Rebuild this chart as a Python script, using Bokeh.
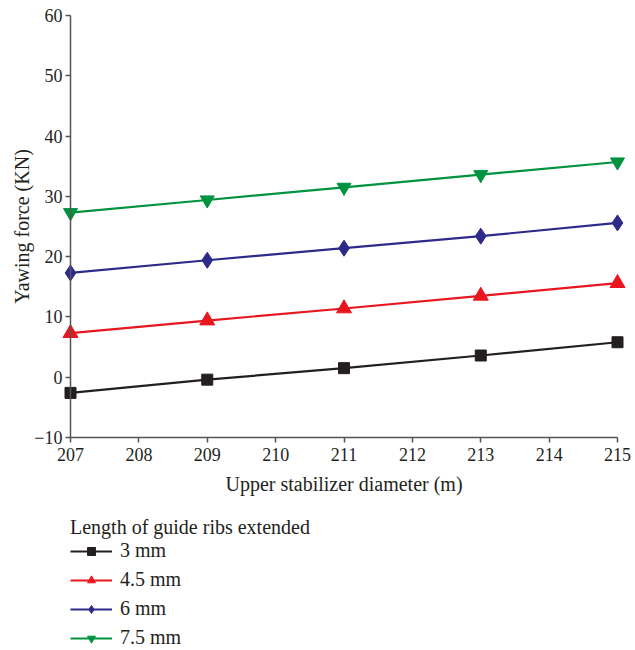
from bokeh.plotting import figure
from bokeh.models import Legend, LegendItem, FixedTicker
from bokeh.embed import file_html
from bokeh.resources import INLINE

diameter = [207, 209, 211, 213, 215]
f_3mm = [-2.6, -0.4, 1.5, 3.6, 5.8]
f_45mm = [7.3, 9.4, 11.4, 13.5, 15.6]
f_6mm = [17.3, 19.4, 21.4, 23.4, 25.6]
f_75mm = [27.3, 29.4, 31.5, 33.6, 35.7]
labels = ["3 mm", "4.5 mm", "6 mm", "7.5 mm"]
x_ticks = [207, 208, 209, 210, 211, 212, 213, 214, 215]
y_ticks = [-10, 0, 10, 20, 30, 40, 50, 60]

FONT = "Liberation Serif"
AX = "#555555"
TXT = "#231f20"

W, H = 635, 650
# axis box in pixels: x 207 -> 70, 215 -> 617 ; y 60 -> 15, -10 -> 437
SX = (617 - 70) / (x_ticks[-1] - x_ticks[0])
SY = (437 - 15) / (y_ticks[-1] - y_ticks[0])
x_lo = x_ticks[0] - 70 / SX
x_hi = x_lo + W / SX
y_hi = y_ticks[-1] + 15 / SY
y_lo = y_hi - H / SY

p = figure(frame_width=W, frame_height=H, output_backend="svg", toolbar_location=None,
           x_range=(x_lo, x_hi), y_range=(y_lo, y_hi), min_border=0)
p.outline_line_color = None
p.grid.visible = False
p.background_fill_color = "white"
p.border_fill_color = "white"

for ax in (p.xaxis[0], p.yaxis[0]):
    ax.axis_line_color = AX
    ax.axis_line_width = 1.5
    ax.major_tick_line_color = AX
    ax.major_tick_line_width = 1.5
    ax.major_tick_out = 5
    ax.major_tick_in = 0
    ax.minor_tick_line_color = None
    ax.major_label_text_font = FONT
    ax.major_label_text_font_size = "18px"
    ax.major_label_text_color = TXT
    ax.axis_label_text_font = FONT
    ax.axis_label_text_font_size = "20px"
    ax.axis_label_text_font_style = "normal"
    ax.axis_label_text_color = TXT

p.xaxis.ticker = FixedTicker(ticks=x_ticks)
p.yaxis.ticker = FixedTicker(ticks=y_ticks)
p.xaxis.bounds = (x_ticks[0], x_ticks[-1])
p.yaxis.bounds = (y_ticks[0], y_ticks[-1])
p.yaxis.fixed_location = x_ticks[0]
p.xaxis.fixed_location = y_ticks[0]
p.yaxis.major_label_overrides = {t: (("\u2212" + str(-t)) if t < 0 else str(t)) for t in y_ticks}
p.xaxis.axis_label = "Upper stabilizer diameter (m)"
p.yaxis.axis_label = "Yawing force (KN)"
p.xaxis.major_label_standoff = 5
p.yaxis.major_label_standoff = 3
p.xaxis.axis_label_standoff = 9
p.yaxis.axis_label_standoff = -2

series = [
    (f_3mm, "#231f20", "square", 11),
    (f_45mm, "#e8161f", "triangle", 15),
    (f_6mm, "#2e2a8a", "diamond", 16),
    (f_75mm, "#00933f", "inverted_triangle", 14),
]
items = []
for (vals, col, mk, sz), lab in zip(series, labels):
    l = p.line(diameter, vals, line_color=col, line_width=2.2)
    s = p.scatter(diameter, vals, marker=mk, size=sz, fill_color=col, line_color=col)
    items.append(LegendItem(label=lab, renderers=[l, s]))

legend = Legend(items=items, title="Length of guide ribs extended",
                location=(70, 1), orientation="vertical")
legend.title_text_font = FONT
legend.title_text_font_size = "20px"
legend.title_text_font_style = "normal"
legend.title_text_color = TXT
legend.title_standoff = 0
legend.label_text_font = FONT
legend.label_text_font_size = "20px"
legend.label_text_color = TXT
legend.glyph_width = 42
legend.glyph_height = 20
legend.label_height = 20
legend.spacing = 6
legend.label_standoff = 8
legend.padding = 0
legend.margin = 0
legend.border_line_color = None
legend.background_fill_alpha = 0
p.add_layout(legend, "center")

open("out.html", "w").write(file_html(p, INLINE))
